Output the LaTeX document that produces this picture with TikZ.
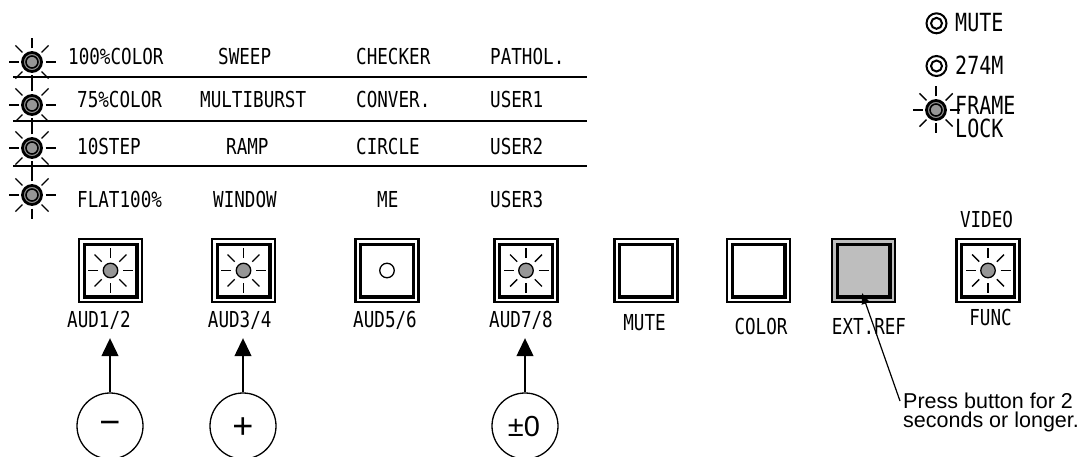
\documentclass[tikz,border=0pt]{standalone}
\usepackage{fontspec}
\setmainfont{Liberation Sans}
\newfontfamily\gfont[FakeStretch=0.8]{DejaVu Sans Mono}
\usetikzlibrary{arrows.meta}
\definecolor{ledgray}{RGB}{150,150,150}
\definecolor{extgray}{RGB}{190,190,190}
\newcommand\ledrays[3]{\foreach \a in {0,45,...,315} \draw[ray] (#1) ++(\a:#2) -- ++(\a:#3);}
\tikzset{
  lab/.style={font=\gfont\fontsize{22}{22}\selectfont, inner sep=0pt, text depth=0pt},
  tbl/.style={lab, anchor=base west},
  blab/.style={lab, anchor=base},
  labR/.style={font=\gfont\fontsize{25}{25}\selectfont, inner sep=0pt, text depth=0pt, anchor=base west},
  ray/.style={line width=1.4pt},
  ledbig/.style={circle, draw, fill=ledgray, line width=2.8pt, minimum size=19pt, inner sep=0pt,
    path picture={\draw[line width=1.6pt] (path picture bounding box.center) circle[radius=6pt];}},
  ledring/.style={circle, draw, fill=white, line width=2pt, minimum size=20pt, inner sep=0pt,
    path picture={\draw[line width=2pt] (path picture bounding box.center) circle[radius=5.5pt];}},
  btn/.style={rectangle, draw, line width=2.3pt, minimum size=63pt, inner sep=0pt,
    path picture={\draw[line width=3.4pt] ([shift={(-26.3,-26.3)}]path picture bounding box.center) rectangle ([shift={(26.3,26.3)}]path picture bounding box.center);}},
  bled/.style={circle, draw, fill=ledgray, line width=1.3pt, minimum size=14.5pt, inner sep=0pt},
  boff/.style={circle, draw, fill=white, line width=1.3pt, minimum size=14.5pt, inner sep=0pt},
  cbtn/.style={circle, draw, line width=1.3pt, minimum size=66pt, inner sep=0pt},
  sign/.style={inner sep=0pt, font=\fontsize{36}{36}\selectfont},
  uparr/.style={line width=1.3pt, -{Triangle[length=18pt,width=17pt]}, shorten >=11pt},
  notearr/.style={line width=1.2pt, -{Triangle[length=11pt,width=8pt]}},
  note/.style={font=\fontsize{21.5}{21.5}\selectfont, inner sep=0pt, anchor=base west}
}
\begin{document}
\begin{tikzpicture}[x=1pt,y=-1pt]
\useasboundingbox (0,0) rectangle (1083,457);
\clip (0,0) rectangle (1083,457);
% table lines
\draw[line width=1.8pt] (13,77) -- (587,77);
\draw[line width=1.8pt] (13,121) -- (587,121);
\draw[line width=1.8pt] (13,166) -- (587,166);
% left LEDs
\node[ledbig] (la) at (32,62) {};
\node[ledbig] (lb) at (32,105) {};
\node[ledbig] (lc) at (32,148) {};
\node[ledbig] (ld) at (32,195) {};
\ledrays{la}{13.5}{10}
\ledrays{lb}{13.5}{10}
\ledrays{lc}{13.5}{10}
\ledrays{ld}{13.5}{10}
% table text
\node[tbl] (t11) at (68,65) {100\%COLOR};
\node[tbl] (t12) at (218,65) {SWEEP};
\node[tbl] (t13) at (356,65) {CHECKER};
\node[tbl] (t14) at (490,65) {PATHOL.};
\node[tbl] (t21) at (77,108) {75\%COLOR};
\node[tbl] (t22) at (200,108) {MULTIBURST};
\node[tbl] (t23) at (356,108) {CONVER.};
\node[tbl] (t24) at (490,108) {USER1};
\node[tbl] (t31) at (77,155) {10STEP};
\node[tbl] (t32) at (226,155) {RAMP};
\node[tbl] (t33) at (356,155) {CIRCLE};
\node[tbl] (t34) at (490,155) {USER2};
\node[tbl] (t41) at (77,207) {FLAT100\%};
\node[tbl] (t42) at (213,207) {WINDOW};
\node[tbl] (t43) at (377,207) {ME};
\node[tbl] (t44) at (490,207) {USER3};
% right indicators
\node[ledring] (rm) at (936.5,23.3) {};
\node[ledring] (rk) at (936.5,66) {};
\node[ledbig] (rf) at (936,110) {};
\ledrays{rf}{13.5}{10}
\node[labR] (tm) at (955,31.7) {MUTE};
\node[labR] (tk) at (955,75) {274M};
\node[labR] (tf) at (955,115) {FRAME};
\node[labR] (tl) at (955,138) {LOCK};
% buttons
\node[btn] (b1) at (110.5,270.5) {};
\node[btn] (b2) at (243.5,270.5) {};
\node[btn] (b3) at (387,270.5) {};
\node[btn] (b4) at (526,270.5) {};
\node[btn] (b5) at (646,270.5) {};
\node[btn] (b6) at (758.5,270.5) {};
\node[btn, fill=extgray] (ext) at (863.5,270.5) {};
\node[btn] (b8) at (988,270.5) {};
\node[bled] (e1) at (b1) {};
\node[bled] (e2) at (b2) {};
\node[boff] (e3) at (b3) {};
\node[bled] (e4) at (b4) {};
\node[bled] (e8) at (b8) {};
\ledrays{e1}{12.5}{10}
\ledrays{e2}{12.5}{10}
\ledrays{e4}{12.5}{10}
\ledrays{e8}{12.5}{10}
% button labels
\node[blab] (n1) at (99,327) {AUD1/2};
\node[blab] (n2) at (239.7,327) {AUD3/4};
\node[blab] (n3) at (385,327) {AUD5/6};
\node[blab] (n4) at (521,327) {AUD7/8};
\node[blab] (n5) at (644.5,330.7) {MUTE};
\node[blab] (n6) at (761,334) {COLOR};
\node[blab] (n7) at (869,334) {EXT.REF};
\node[blab] (n8) at (990.5,325) {FUNC};
\node[blab] (n9) at (986.5,227) {VIDEO};
% round keys
\node[cbtn] (c1) at (110,426) {};
\node[cbtn] (c2) at (243,426) {};
\node[cbtn] (c3) at (525,426) {};
\node[sign] (s1) at (110,428) {−};
\node[sign] (s2) at (243,428) {+};
\node[inner sep=0pt, font=\fontsize{29}{29}\selectfont] (s3) at (524,427) {±0};
\draw[uparr] (c1.north) -- (c1.north |- n1.south);
\draw[uparr] (c2.north) -- (c2.north |- n2.south);
\draw[uparr] (c3.north) -- (c3.north |- n4.south);
% note
\coordinate (nstart) at (900,401);
\node[note] (note1) at (903,408) {Press button for 2};
\node[note] (note2) at (903,427.5) {seconds or longer.};
\draw[notearr] (nstart) -- ([shift={(-1.5,22.5)}]ext.center);
\end{tikzpicture}
\end{document}
